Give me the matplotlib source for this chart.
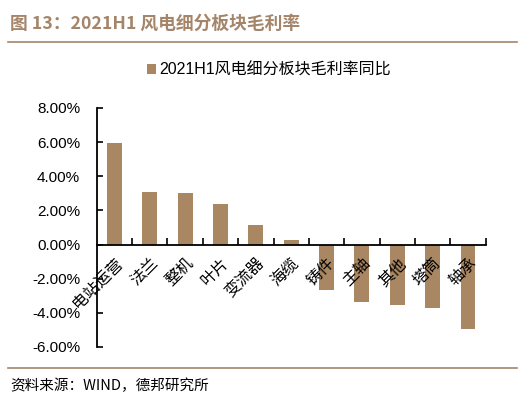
import matplotlib
matplotlib.use('Agg')
import matplotlib.pyplot as plt
from matplotlib.ticker import FuncFormatter, FixedLocator
from matplotlib.lines import Line2D

plt.rcParams['font.family'] = ['Liberation Sans', 'Noto Sans CJK SC', 'DejaVu Sans']

categories = ['电站运营', '法兰', '整机', '叶片', '变流器', '海缆',
              '铸件', '主轴', '其他', '塔筒', '轴承']
margin_yoy = [5.92, 3.10, 3.02, 2.40, 1.17, 0.29,
              -2.69, -3.39, -3.55, -3.72, -4.95]
yticks = [-6, -4, -2, 0, 2, 4, 6, 8]

bar_color = '#A98762'
title_color = '#A5856A'

fig = plt.figure(figsize=(5.2, 3.97), dpi=100)
ax = fig.add_axes([0.186, 0.126, 0.748, 0.602])

x = list(range(len(categories)))
ax.bar(x, margin_yoy, width=0.42, color=bar_color, label='2021H1风电细分板块毛利率同比')

ax.set_xlim(-0.5, len(categories) - 0.5)
ax.set_ylim(-6, 8)
ax.set_yticks(yticks)
ax.yaxis.set_major_formatter(FuncFormatter(lambda v, p: '%.2f%%' % v))
ax.tick_params(axis='y', direction='in', length=4, width=1.2, labelsize=11, pad=12)

for s in ['top', 'right']:
    ax.spines[s].set_visible(False)
ax.spines['bottom'].set_position(('data', 0))
ax.spines['left'].set_linewidth(1.3)
ax.spines['bottom'].set_linewidth(1.3)

# ticks between categories on the zero line
ax.xaxis.set_major_locator(FixedLocator([i + 0.5 for i in range(len(categories))]))
ax.tick_params(axis='x', direction='in', length=5, width=1.2, labelbottom=False)
for i, name in enumerate(categories):
    ax.text(i + 0.0, -0.6, name, rotation=45, ha='right', va='top',
            rotation_mode='anchor', fontsize=11.5, family='Noto Sans CJK SC')

# legend
leg = ax.legend(loc='center', bbox_to_anchor=(0.443, 1.159), frameon=False,
                prop={'family': ['Liberation Sans', 'Noto Sans CJK SC'], 'size': 11.5},
                handlelength=0.6, handleheight=0.6, handletextpad=0.2)

# header and footer
fig.text(0.02, 0.94, '图 13：2021H1 风电细分板块毛利率', color=title_color,
         fontsize=12.8, fontweight='bold', family=['Noto Sans CJK SC'], va='center')
fig.add_artist(Line2D([0.015, 0.995], [0.894, 0.894], color=title_color, lw=1.2))
fig.add_artist(Line2D([0.015, 0.995], [0.073, 0.073], color=title_color, lw=1.2))
fig.text(0.02, 0.027, '资料来源：WIND，德邦研究所', fontsize=10.5,
         family=['Noto Sans CJK SC'], va='center')

plt.savefig('out.png', dpi=100)
